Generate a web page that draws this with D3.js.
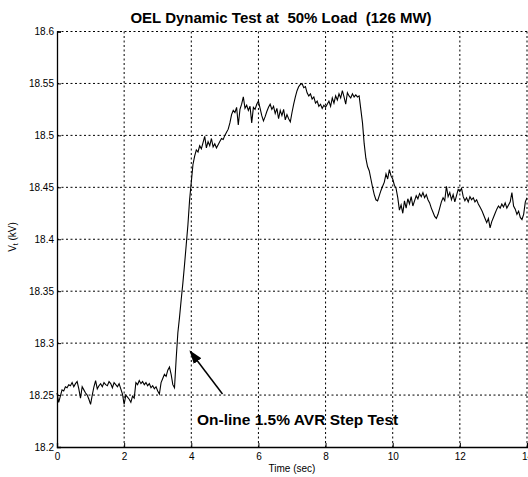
<!DOCTYPE html>
<meta charset="utf-8">
<style>
    body { margin: 0; background: #fff; }
    text { font-family: "Liberation Sans", Arial, sans-serif; fill: #000; }
    .grid line { stroke: #000; stroke-width: 1; stroke-dasharray: 2,2.5; }
    .trace { fill: none; stroke: #000; stroke-width: 1.1; }
</style>
<svg width="528" height="477"></svg>
<script src="https://d3js.org/d3.v7.min.js"></script>
<script>

    // terminal voltage, sampled every 0.05 s from t = 0 to 14 s
    var sampleStep = 0.05;
    var voltage = [
        // 0 - 0.95
        18.252, 18.243, 18.249, 18.255, 18.254, 18.258, 18.257, 18.260, 18.259, 18.262,
        18.258, 18.261, 18.263, 18.256, 18.247, 18.258, 18.255, 18.252, 18.250, 18.246,
        // 1 - 1.95
        18.241, 18.250, 18.258, 18.264, 18.256, 18.259, 18.261, 18.258, 18.262, 18.260,
        18.259, 18.263, 18.261, 18.257, 18.262, 18.260, 18.258, 18.261, 18.256, 18.251,
        // 2 - 2.95
        18.241, 18.250, 18.248, 18.246, 18.243, 18.249, 18.247, 18.262, 18.260, 18.264,
        18.261, 18.263, 18.260, 18.262, 18.259, 18.261, 18.257, 18.259, 18.256, 18.258,
        // 3 - 3.95
        18.254, 18.251, 18.262, 18.266, 18.270, 18.268, 18.274, 18.277, 18.270, 18.260,
        18.257, 18.285, 18.310, 18.325, 18.342, 18.358, 18.376, 18.395, 18.414, 18.438,
        // 4 - 4.95
        18.455, 18.472, 18.480, 18.486, 18.484, 18.490, 18.487, 18.493, 18.499, 18.488,
        18.494, 18.490, 18.497, 18.489, 18.492, 18.488, 18.491, 18.494, 18.497, 18.496,
        // 5 - 5.95
        18.500, 18.503, 18.506, 18.512, 18.520, 18.524, 18.522, 18.527, 18.510, 18.525,
        18.530, 18.537, 18.526, 18.529, 18.524, 18.528, 18.512, 18.527, 18.525, 18.530,
        // 6 - 6.95
        18.533, 18.526, 18.519, 18.514, 18.518, 18.523, 18.527, 18.530, 18.525, 18.528,
        18.521, 18.526, 18.516, 18.524, 18.519, 18.525, 18.515, 18.520, 18.516, 18.513,
        // 7 - 7.95
        18.522, 18.530, 18.537, 18.543, 18.547, 18.549, 18.550, 18.546, 18.547, 18.541,
        18.538, 18.540, 18.535, 18.537, 18.531, 18.533, 18.528, 18.530, 18.526, 18.529,
        // 8 - 8.95
        18.527, 18.530, 18.533, 18.528, 18.536, 18.531, 18.538, 18.534, 18.540, 18.536,
        18.543, 18.537, 18.530, 18.541, 18.538, 18.536, 18.540, 18.537, 18.539, 18.537,
        // 9 - 9.95
        18.538, 18.525, 18.512, 18.492, 18.478, 18.470, 18.466, 18.458, 18.450, 18.443,
        18.438, 18.437, 18.442, 18.447, 18.451, 18.455, 18.463, 18.458, 18.467, 18.461,
        // 10 - 10.95
        18.458, 18.452, 18.449, 18.440, 18.428, 18.433, 18.425, 18.437, 18.430, 18.439,
        18.434, 18.441, 18.432, 18.437, 18.442, 18.439, 18.444, 18.441, 18.445, 18.440,
        // 11 - 11.95
        18.443, 18.438, 18.435, 18.430, 18.426, 18.422, 18.420, 18.424, 18.430, 18.436,
        18.440, 18.437, 18.451, 18.441, 18.445, 18.438, 18.443, 18.436, 18.442, 18.448,
        // 12 - 12.95
        18.446, 18.449, 18.441, 18.437, 18.440, 18.436, 18.441, 18.438, 18.440, 18.436,
        18.438, 18.434, 18.431, 18.428, 18.424, 18.420, 18.416, 18.420, 18.411, 18.417,
        // 13 - 14
        18.421, 18.425, 18.429, 18.432, 18.430, 18.434, 18.431, 18.435, 18.430, 18.433,
        18.436, 18.445, 18.432, 18.429, 18.424, 18.427, 18.421, 18.419, 18.424, 18.436,
        18.440
    ];

    var xTicks = [0, 2, 4, 6, 8, 10, 12, 14];
    var yTicks = [18.2, 18.25, 18.3, 18.35, 18.4, 18.45, 18.5, 18.55, 18.6];
    var yTickLabels = ["18.2", "18.25", "18.3", "18.35", "18.4", "18.45", "18.5", "18.55", "18.6"];

    var svg = d3.select("svg"),
        plotLeft = 57, plotRight = 527, plotTop = 31.5, plotBottom = 447;

    var x = d3.scaleLinear().domain([0, 14]).range([plotLeft, plotRight]);
    var y = d3.scaleLinear().domain([18.2, 18.6]).range([plotBottom, plotTop]);

    // dotted grid
    var grid = svg.append("g").attr("class", "grid");
    grid.selectAll(".gx")
        .data(xTicks.slice(1))
        .enter().append("line")
        .attr("x1", function(d) { return x(d); })
        .attr("x2", function(d) { return x(d); })
        .attr("y1", plotTop)
        .attr("y2", plotBottom);
    grid.selectAll(".gy")
        .data(yTicks.slice(1))
        .enter().append("line")
        .attr("x1", plotLeft)
        .attr("x2", plotRight)
        .attr("y1", function(d) { return y(d); })
        .attr("y2", function(d) { return y(d); });

    // axes
    var xAxis = d3.axisBottom(x).tickValues(xTicks).tickSize(-4).tickPadding(6);
    var yAxis = d3.axisLeft(y).tickValues(yTicks).tickSize(-4).tickPadding(3)
        .tickFormat(function(d, i) { return yTickLabels[i]; });

    svg.append("g")
        .attr("transform", "translate(0," + plotBottom + ")")
        .call(xAxis)
        .call(function(g) {
            g.selectAll("text").attr("font-size", 10).attr("font-family", "Liberation Sans, Arial, sans-serif");
            g.select(".domain").attr("stroke-width", 1.3);
        });

    svg.append("g")
        .attr("transform", "translate(" + plotLeft + ",0)")
        .call(yAxis)
        .call(function(g) {
            g.selectAll("text").attr("font-size", 10).attr("font-family", "Liberation Sans, Arial, sans-serif");
            g.select(".domain").attr("stroke-width", 1.3);
        });

    // voltage trace
    var line = d3.line()
        .x(function(d, i) { return x(i * sampleStep); })
        .y(function(d) { return y(d); });

    svg.append("path")
        .datum(voltage)
        .attr("class", "trace")
        .attr("d", line);

    // titles
    svg.append("text")
        .attr("x", 281)
        .attr("y", 23)
        .attr("text-anchor", "middle")
        .attr("font-size", 15)
        .attr("font-weight", "bold")
        .style("white-space", "pre")
        .text("OEL Dynamic Test at  50% Load  (126 MW)");

    svg.append("text")
        .attr("x", x(7))
        .attr("y", 472)
        .attr("text-anchor", "middle")
        .attr("font-size", 10)
        .text("Time (sec)");

    var yl = svg.append("text")
        .attr("transform", "translate(16,237) rotate(-90)")
        .attr("text-anchor", "middle")
        .attr("font-size", 10);
    yl.append("tspan").text("V");
    yl.append("tspan").attr("font-size", 7).attr("dy", 2).text("t");
    yl.append("tspan").attr("dy", -2).text(" (kV)");

    // annotation
    svg.append("defs").append("marker")
        .attr("id", "head")
        .attr("viewBox", "0 0 10 10")
        .attr("refX", 9).attr("refY", 5)
        .attr("markerWidth", 9).attr("markerHeight", 9)
        .attr("orient", "auto")
        .append("path")
        .attr("d", "M0,1.5 L10,5 L0,8.5 Z")
        .attr("fill", "#000");

    svg.append("line")
        .attr("x1", x(4.93)).attr("y1", y(18.251))
        .attr("x2", x(3.97)).attr("y2", y(18.292))
        .attr("stroke", "#000")
        .attr("stroke-width", 1.5)
        .attr("marker-end", "url(#head)");

    svg.append("text")
        .attr("x", 197)
        .attr("y", 425)
        .attr("font-size", 15.5)
        .attr("font-weight", "bold")
        .text("On-line 1.5% AVR Step Test");

</script>
